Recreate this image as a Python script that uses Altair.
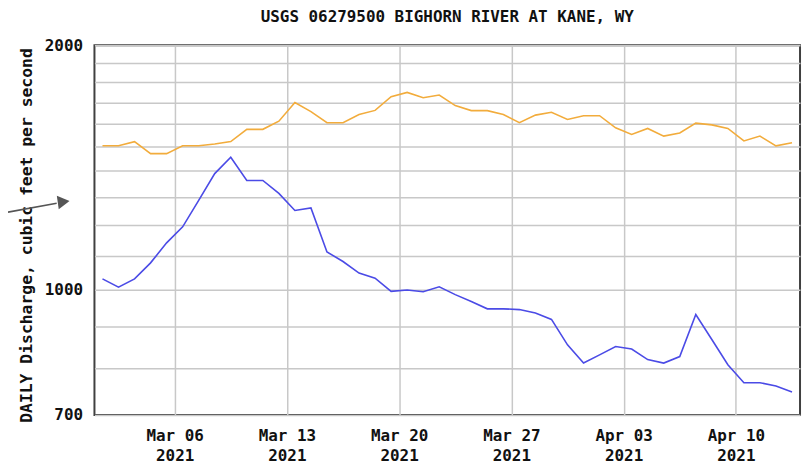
import altair as alt
import pandas as pd

TITLE = "USGS 06279500 BIGHORN RIVER AT KANE, WY"
Y_TITLE = "DAILY Discharge, cubic feet per second"

dates = pd.date_range("2021-03-01 12:00", "2021-04-13 12:00", freq="D")

discharge = [1030, 1006, 1030, 1078, 1141, 1194, 1287, 1389, 1455, 1362,
             1362, 1313, 1251, 1260, 1112, 1082, 1047, 1032, 994, 998,
             993, 1007, 985, 966, 946, 946, 944, 935, 918, 854,
             811, 830, 850, 844, 819, 811, 826, 931, 867, 807,
             767, 767, 760, 747]

median = [1503, 1503, 1521, 1470, 1470, 1503, 1503, 1511, 1521, 1575,
          1575, 1612, 1700, 1656, 1605, 1605, 1643, 1662, 1728, 1749,
          1723, 1736, 1685, 1661, 1661, 1643, 1605, 1640, 1653, 1620,
          1637, 1637, 1582, 1552, 1579, 1545, 1559, 1603, 1595, 1579,
          1524, 1545, 1503, 1516]

series_names = ["Discharge", "Median"]
series_colors = ["#4b4be6", "#f2ac3c"]

y_ticks = list(range(700, 2001, 100))
y_labeled = [700, 1000, 2000]
x_ticks = ["2021-03-06", "2021-03-13", "2021-03-20", "2021-03-27", "2021-04-03", "2021-04-10"]

iso = [d.strftime("%Y-%m-%dT%H:%M:%SZ") for d in dates]
df = pd.DataFrame({
    "date": iso + iso,
    "value": discharge + median,
    "series": [series_names[0]] * len(iso) + [series_names[1]] * len(iso),
})

FONT = "DejaVu Sans Mono"

x_vals = [alt.DateTime(year=int(s[:4]), month=int(s[5:7]), date=int(s[8:10]), utc=True) for s in x_ticks]
label_test = "indexof(" + str(y_labeled) + ", datum.value) >= 0 ? format(datum.value, 'd') : ''"

lines = alt.Chart(df).mark_line(strokeWidth=1.6).encode(
    x=alt.X("date:T",
            scale=alt.Scale(type="utc",
                            domain=[alt.DateTime(year=2021, month=3, date=1, utc=True),
                                    alt.DateTime(year=2021, month=4, date=14, utc=True)]),
            axis=alt.Axis(values=x_vals, title=None, tickSize=0, domain=False,
                          labelExpr="[utcFormat(datum.value, '%b %d'), utcFormat(datum.value, '%Y')]",
                          labelFont=FONT, labelFontSize=16, labelFontWeight="bold",
                          labelColor="#111", labelPadding=13, labelLineHeight=20,
                          labelBaseline="top",
                          gridColor="#c8c8c8", gridWidth=1.5)),
    y=alt.Y("value:Q",
            scale=alt.Scale(type="log", domain=[700, 2000], nice=False),
            axis=alt.Axis(values=y_ticks, title=Y_TITLE, tickSize=0, domain=False,
                          labelExpr=label_test,
                          labelFont=FONT, labelFontSize=16, labelFontWeight="bold",
                          labelColor="#111", labelPadding=12,
                          titleFont=FONT, titleFontSize=16.5, titleFontWeight="bold",
                          titleColor="#111", titleX=-68, titleY=191, titleBaseline="middle",
                          titleAlign="center", titleAngle=270,
                          gridColor="#c8c8c8", gridWidth=1.5)),
    color=alt.Color("series:N", scale=alt.Scale(domain=series_names, range=series_colors), legend=None),
    detail="series:N",
)

anno_df = pd.DataFrame({"a": [0]})
arrow_line = alt.Chart(anno_df).mark_rule(color="#555555", strokeWidth=1.6).encode(
    x=alt.value(-87), y=alt.value(168), x2=alt.value(-38), y2=alt.value(159)
)
arrow_head = alt.Chart(anno_df).mark_point(shape="triangle-right", filled=True, color="#555555",
                                            size=190, opacity=1, angle=352).encode(
    x=alt.value(-31), y=alt.value(157.5)
)

chart = alt.layer(lines, arrow_line, arrow_head).properties(
    width=710, height=372,
    autosize=alt.AutoSizeParams(type="none"),
    padding={"left": 87, "top": 36, "right": 4, "bottom": 52},
    title=alt.Title(TITLE, font=FONT, fontSize=16, fontWeight="bold", color="#111", offset=12),
).configure(background="white").configure_view(stroke="#404040", strokeWidth=2)

chart.save("out.html", embed_options={"renderer": "svg", "actions": False})
